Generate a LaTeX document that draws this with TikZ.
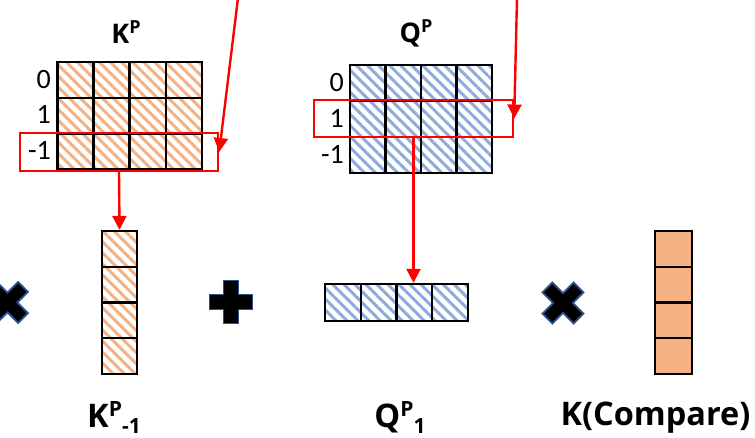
\documentclass[tikz,border=0pt]{standalone}
\usepackage{fontspec}
\setmainfont{Carlito}
\newfontfamily\lblfont{Open Sans}
\usetikzlibrary{arrows.meta, patterns.meta, positioning}

\definecolor{hatchorange}{HTML}{F4B183}
\definecolor{hatchblue}{HTML}{8FAADC}
\definecolor{signblue}{HTML}{2F528F}

\newcommand{\raisedtxt}[3]{\raisebox{#1}[\height][0pt]{\fontsize{#2}{#2}\selectfont #3}}

\tikzset{
    plussign/.pic={\draw[sign] (-7.5,-21.5) -- (7.5,-21.5) -- (7.5,-7.5) -- (21.5,-7.5) -- (21.5,7.5) -- (7.5,7.5)
        -- (7.5,21.5) -- (-7.5,21.5) -- (-7.5,7.5) -- (-21.5,7.5) -- (-21.5,-7.5) -- (-7.5,-7.5) -- cycle;},
    timessign/.pic={\draw[sign] (-7,-22) -- (7,-22) -- (7,-7) -- (22,-7) -- (22,7) -- (7,7)
        -- (7,22) -- (-7,22) -- (-7,7) -- (-22,7) -- (-22,-7) -- (-7,-7) -- cycle;}
}

\begin{document}
\begin{tikzpicture}[x=1pt, y=-1pt,
        cell/.style={draw=black, line width=2.4pt, inner sep=0pt, minimum width=36pt, minimum height=35.7pt},
        khatch/.style={cell, pattern={Lines[angle=-45, distance=7.8pt, line width=3pt]}, pattern color=hatchorange},
        qhatch/.style={cell, pattern={Lines[angle=-45, distance=7.8pt, line width=3pt]}, pattern color=hatchblue},
        ksolid/.style={cell, fill=hatchorange},
        selbox/.style={draw=red, line width=2.4pt, inner sep=0pt},
        pick/.style={draw=red, line width=2.4pt, -{Triangle[length=14pt, width=14pt]}},
        rowlbl/.style={anchor=base east, inner sep=0pt, font=\fontsize{28}{30}\selectfont},
        headlbl/.style={anchor=base, inner sep=0pt, font=\lblfont\bfseries\fontsize{27}{30}\selectfont},
        veclbl/.style={anchor=base, inner sep=0pt, font=\lblfont\bfseries\fontsize{32.5}{36}\selectfont},
        sign/.style={fill=black, draw=signblue, line width=1.8pt, line join=miter}
    ]
    \useasboundingbox (0,0) rectangle (755,437);

    \foreach \r in {0,1,2}
        \foreach \c in {0,...,3} {
            \node[khatch] (k-\r-\c) at ({75.5+36.1*\c},{79.85+35.7*\r}) {};
            \node[qhatch, minimum width=35.5pt, minimum height=36pt] (q-\r-\c) at ({367.75+35.5*\c},{83+36*\r}) {};
        }
    \foreach \t [count=\r from 0] in {0,1,-1} {
        \node[rowlbl] (kr-\r) at (51,{88+35.7*\r}) {\t};
        \node[rowlbl] (qr-\r) at (344,{91+36*\r}) {\t};
    }
    \node[headlbl] (kTitle) at (126,43) {K\raisedtxt{10pt}{18}{P}};
    \node[headlbl] (qTitle) at (416,42) {Q\raisedtxt{10pt}{18}{P}};

    \node[selbox, minimum width=198pt, minimum height=38pt] (kSel) at (119,152) {};
    \node[selbox, minimum width=199pt, minimum height=37pt] (qSel) at (413.5,118.5) {};

    \foreach \r in {0,...,3} {
        \node[khatch, minimum width=35pt, minimum height=35.75pt] (kv-\r) at (119.5,{248.9+35.75*\r}) {};
        \node[qhatch, minimum width=35.75pt, minimum height=37pt] (qv-\r) at ({342.9+35.75*\r},302.5) {};
        \node[ksolid, minimum width=37pt, minimum height=35.75pt] (cv-\r) at (673.5,{248.9+35.75*\r}) {};
    }

    \coordinate (kFrom) at (238,-2);
    \coordinate (qFrom) at (517,-2);
    \draw[pick] (kFrom) -- (kSel.east);
    \draw[pick] (qFrom) -- (qSel.east);
    \draw[pick] (kSel.south) -- (kv-0.north);
    \draw[pick] (qSel.south) -- (qSel.south |- qv-0.north);

    \pic[rotate=45] at (7.5,302.5) {timessign};
    \pic at (231,302) {plussign};
    \pic[rotate=45] at (563,303) {timessign};

    \node[veclbl] (kName) at (114,427) {K\raisedtxt{11pt}{21}{P}\raisedtxt{-6pt}{21}{-1}};
    \node[veclbl] (qName) at (400,427) {Q\raisedtxt{11pt}{21}{P}\raisedtxt{-6pt}{21}{1}};
    \node[veclbl] (cName) at (655.5,425) {K(Compare)};
\end{tikzpicture}
\end{document}
